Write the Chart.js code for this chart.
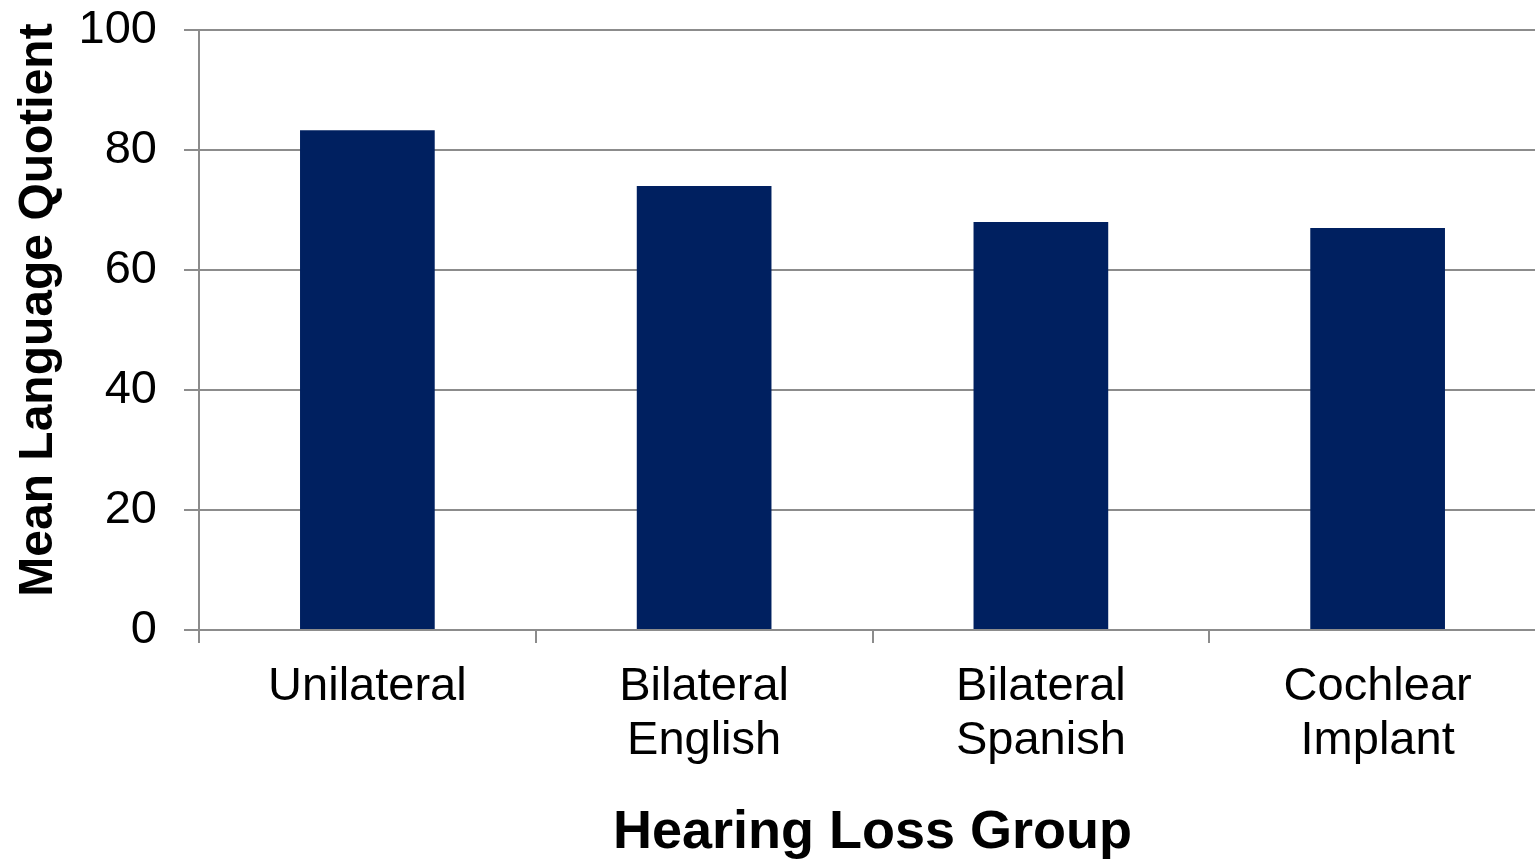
<!DOCTYPE html>
<html>
<head>
<meta charset="utf-8">
<script src="https://cdn.jsdelivr.net/npm/chart.js@4.4.0/dist/chart.umd.min.js"></script>
<style>
    html, body { margin: 0; padding: 0; background: #fff; overflow: hidden; }
    #marco { width: 1535px; height: 866px; overflow: hidden; }
    /* the plot runs a little past the right edge in the original */
    #wrap { width: 1546px; height: 866px; }
</style>
</head>
<body>
<div id="marco"><div id="wrap"><canvas id="grafica"></canvas></div></div>
<script>
var groupNames = [['Unilateral'], ['Bilateral', 'English'], ['Bilateral', 'Spanish'], ['Cochlear', 'Implant']];
var meanLQ = [83.3, 74, 68, 67];
var yTicks = [0, 20, 40, 60, 80, 100];

var axisGray = '#8c8c8c';
var fuente = 'Arial, "Liberation Sans", sans-serif';

const ctx = document.getElementById('grafica').getContext('2d');
new Chart(ctx, {
    type: 'bar',
    data: {
        labels: groupNames,
        datasets: [{
            label: 'Mean Language Quotient',
            data: meanLQ,
            backgroundColor: '#002060',
            categoryPercentage: 0.4,
            barPercentage: 1
        }]
    },
    options: {
        responsive: true,
        maintainAspectRatio: false,
        animation: false,
        layout: { padding: { top: 30, right: 0, left: 0, bottom: 0 } },
        plugins: { legend: { display: false }, tooltip: { enabled: false } },
        scales: {
            x: {
                grid: { drawOnChartArea: false, color: axisGray, lineWidth: 2, tickLength: 13, offset: true },
                border: { color: axisGray, width: 2 },
                ticks: { color: '#000', font: { family: fuente, size: 47, lineHeight: 1.15 }, padding: 17, maxRotation: 0 },
                title: { display: true, text: 'Hearing Loss Group', color: '#000', font: { family: fuente, size: 54, weight: 'bold' }, padding: { top: 20, bottom: 0 } },
                afterFit: function (scale) {
                    scale.height = 236;
                    scale.paddingLeft = 0;
                    scale.paddingRight = 0;
                }
            },
            y: {
                min: 0, max: 100,
                afterBuildTicks: function (scale) { scale.ticks = yTicks.map(function (v) { return { value: v }; }); },
                grid: { color: axisGray, lineWidth: 2, tickLength: 15 },
                border: { color: axisGray, width: 2 },
                ticks: { color: '#000', font: { family: fuente, size: 47 }, padding: 27 },
                title: { display: true, text: '\u00a0\u00a0\u00a0Mean Language Quotient', color: '#000', font: { family: fuente, size: 48, weight: 'bold' }, padding: { top: 10, bottom: 0 } },
                afterFit: function (scale) {
                    scale.width = 199;
                    scale.paddingTop = 0;
                    scale.paddingBottom = 0;
                }
            }
        }
    }
});
</script>
</body>
</html>
